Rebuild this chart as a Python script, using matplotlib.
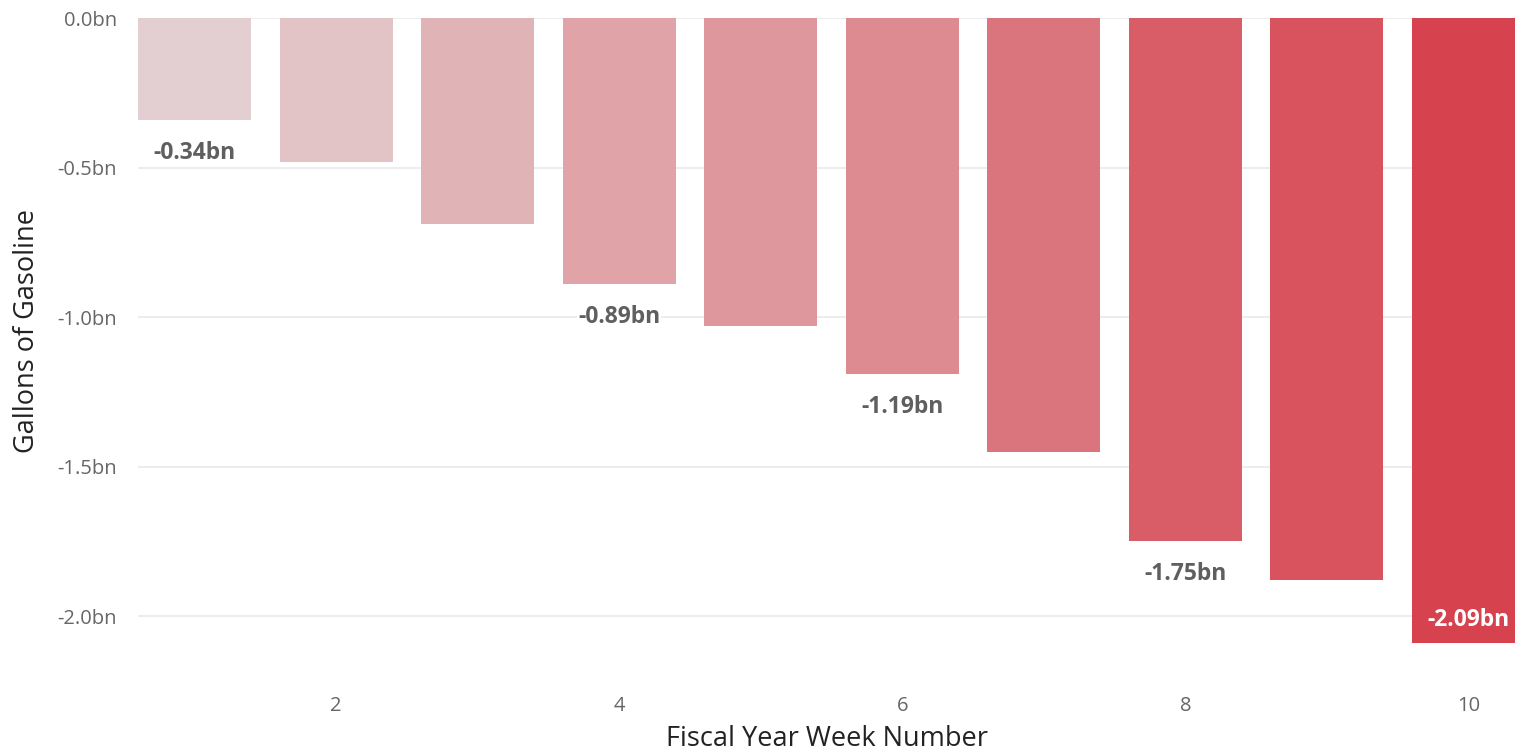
import numpy as np
import matplotlib.pyplot as plt
from matplotlib.colors import LinearSegmentedColormap

plt.rcParams['font.family'] = ['Open Sans', 'DejaVu Sans']

# data
weeks = [1, 2, 3, 4, 5, 6, 7, 8, 9, 10]
gallons_bn = [-0.34, -0.48, -0.69, -0.89, -1.03, -1.19, -1.45, -1.75, -1.88, -2.09]
labelled_weeks = [1, 4, 6, 8, 10]
yticks = [0.0, -0.5, -1.0, -1.5, -2.0]
xticks = [2, 4, 6, 8, 10]

# colour scale by value: light pinkish grey -> red
cmap = LinearSegmentedColormap.from_list('gas', ['#e3cfd1', '#d6424d'])
vals = np.array(gallons_bn)
norm = (vals.max() - vals) / (vals.max() - vals.min())
colors = [cmap(n) for n in norm]

fig = plt.figure(figsize=(15.15, 7.52), dpi=100)
ax = fig.add_axes([0.0911, 0.145, 0.9089, 0.831])

ax.bar(weeks, gallons_bn, width=0.8, color=colors, zorder=2)

ax.set_xlim(0.6, 10.33)
ax.set_ylim(-2.09, 0)
ax.set_yticks(yticks)
ax.set_yticklabels([f'{t:.1f}bn' for t in yticks])
ax.set_xticks(xticks)
ax.tick_params(length=0, labelsize=14.5, labelcolor='#666666')
ax.tick_params(axis='y', pad=15)
ax.tick_params(axis='x', pad=38)
ax.grid(axis='y', color='#ececec', linewidth=1.3, zorder=0)
for s in ax.spines.values():
    s.set_visible(False)

ax.set_xlabel('Fiscal Year Week Number', fontsize=19.5, color='#222222', labelpad=7)
ax.set_ylabel('Gallons of Gasoline', fontsize=19.5, color='#222222', labelpad=12)

# data labels
for w, v in zip(weeks, gallons_bn):
    if w not in labelled_weeks:
        continue
    if w == 10:
        ax.annotate(f'{v:.2f}bn', (w, v), xytext=(0, 23), textcoords='offset pixels',
                    ha='center', va='center', fontsize=16.5, fontweight='bold',
                    color='white', zorder=3, annotation_clip=False)
    else:
        ax.annotate(f'{v:.2f}bn', (w, v), xytext=(0, -33), textcoords='offset pixels',
                    ha='center', va='center', fontsize=16.5, fontweight='bold',
                    color='#5f5f5f', zorder=3,
                    bbox=dict(boxstyle='square,pad=0.05', fc='white', ec='none'))

fig.savefig('out.png', dpi=100)
